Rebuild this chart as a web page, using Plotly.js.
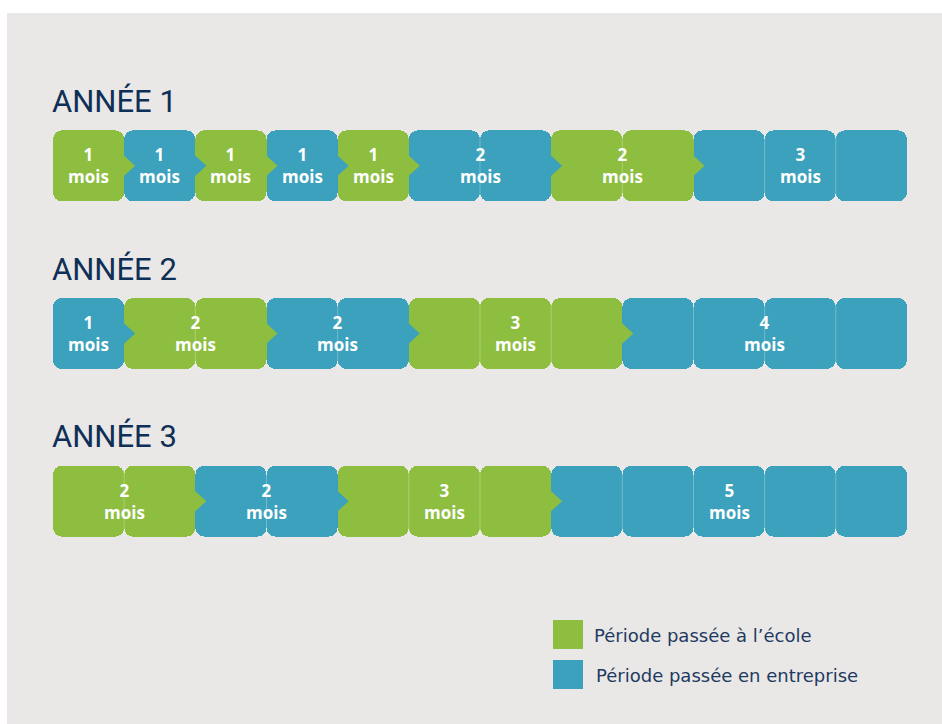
<!DOCTYPE html>
<html><head><meta charset="utf-8">
<script src="https://cdn.plot.ly/plotly-3.0.1.min.js"></script>
<style>
html,body{margin:0;padding:0;background:#ffffff;width:942px;height:724px;overflow:hidden}
#chart{position:absolute;left:7px;top:13px;width:935px;height:711px}
</style></head><body><div id="chart"></div>
<script>
// ---- data ----
const years = ['ANNÉE 1', 'ANNÉE 2', 'ANNÉE 3'];
const yearRows = [1, 2, 3];
const periodMonths = [
  [1, 1, 1, 1, 1, 2, 2, 3],
  [1, 2, 2, 3, 4],
  [2, 2, 3, 5]
];
const periodPlaces = [
  ['école', 'entreprise', 'école', 'entreprise', 'école', 'entreprise', 'école', 'entreprise'],
  ['entreprise', 'école', 'entreprise', 'école', 'entreprise'],
  ['école', 'entreprise', 'école', 'entreprise']
];
const unitLabel = 'mois';
const placeOrder = ['école', 'entreprise'];
const legendLabels = ['Période passée à l’école', 'Période passée en entreprise'];
const placeColors = {'école': '#8DBE3F', 'entreprise': '#3BA1BC'};

// ---- geometry ----
const W = 935, H = 711;
const M = {l: 46, r: 35, t: 69, b: 139};
const plotW = W - M.l - M.r, plotH = H - M.t - M.b;
const pxX = plotW / 12, pxY = plotH / 3;
const barW = 71 / pxY;
const radius = 9;
const triH = 12 / pxY, triW = 11 / pxX;

const traces = [];
const annotations = [];
const shapes = [];

// bars: one rounded cell per month
placeOrder.forEach(place => {
  const ys = [], bases = [], xs = [];
  periodMonths.forEach((row, r) => {
    let start = 0;
    row.forEach((m, k) => {
      if (periodPlaces[r][k] === place) {
        for (let i = 0; i < m; i++) {
          ys.push(yearRows[r]); bases.push(start + i); xs.push(1);
        }
      }
      start += m;
    });
  });
  traces.push({
    type: 'bar', orientation: 'h', y: ys, x: xs, base: bases,
    width: ys.map(() => barW),
    marker: {color: placeColors[place], cornerradius: radius, line: {width: 0}},
    hoverinfo: 'skip', showlegend: false
  });
});

// separators within a period
{
  const sx = [], sy = [];
  periodMonths.forEach((row, r) => {
    let start = 0;
    row.forEach((m) => {
      for (let i = 1; i < m; i++) {
        sx.push(start + i, start + i, null);
        sy.push(yearRows[r] - barW / 2, yearRows[r] + barW / 2, null);
      }
      start += m;
    });
  });
  traces.push({type: 'scatter', mode: 'lines', x: sx, y: sy,
    line: {color: 'rgba(255,255,255,0.28)', width: 1}, hoverinfo: 'skip', showlegend: false});
}

// arrow tips at each change of place
placeOrder.forEach(place => {
  const tx = [], ty = [];
  periodMonths.forEach((row, r) => {
    let start = 0;
    row.forEach((m, k) => {
      start += m;
      if (k < row.length - 1 && periodPlaces[r][k] === place) {
        const c = yearRows[r];
        tx.push(start - 0.03, start + triW, start - 0.03, null);
        ty.push(c - triH, c, c + triH, null);
      }
    });
  });
  traces.push({type: 'scatter', mode: 'lines', x: tx, y: ty, fill: 'toself',
    fillcolor: placeColors[place], line: {width: 0, color: placeColors[place]},
    hoverinfo: 'skip', showlegend: false});
});

// labels
periodMonths.forEach((row, r) => {
  let start = 0;
  row.forEach((m) => {
    const c = start + m / 2;
    annotations.push({x: c, y: yearRows[r], xref: 'x', yref: 'y',
      text: String(m) + '<br>' + unitLabel,
      showarrow: false, xanchor: 'center', yanchor: 'middle', yshift: 0,
      font: {family: 'Open Sans', size: 17, color: '#ffffff', weight: 700}});
    start += m;
  });
  annotations.push({x: 0, y: yearRows[r], xref: 'x', yref: 'y', text: years[r],
    showarrow: false, xanchor: 'left', yanchor: 'bottom', yshift: 44, xshift: -3,
    font: {family: 'Roboto', size: 31, color: '#0E2F56'}});
});

// legend (custom, bottom right)
const pX = x => (x - 53) / plotW;
const pY = y => (585 - y) / plotH;
placeOrder.forEach((place, i) => {
  const top = 620 + i * 40;
  shapes.push({type: 'rect', xref: 'paper', yref: 'paper',
    x0: pX(553), x1: pX(583), y0: pY(top + 29), y1: pY(top),
    fillcolor: placeColors[place], line: {width: 0}});
  annotations.push({xref: 'paper', yref: 'paper', x: pX(592 + i * 2), y: pY(top + 15),
    text: legendLabels[i], showarrow: false, xanchor: 'left', yanchor: 'middle',
    font: {family: 'DejaVu Sans', size: 18, color: '#1E3A62'}});
});

const layout = {
  width: W, height: H, margin: M,
  paper_bgcolor: '#EAE8E6', plot_bgcolor: '#EAE8E6',
  barmode: 'overlay', bargap: 0,
  xaxis: {range: [0, 12], visible: false, fixedrange: true},
  yaxis: {range: [3.5, 0.5], visible: false, fixedrange: true},
  annotations: annotations, shapes: shapes, showlegend: false
};
Plotly.newPlot('chart', traces, layout, {displayModeBar: false, staticPlot: true});
</script></body></html>
